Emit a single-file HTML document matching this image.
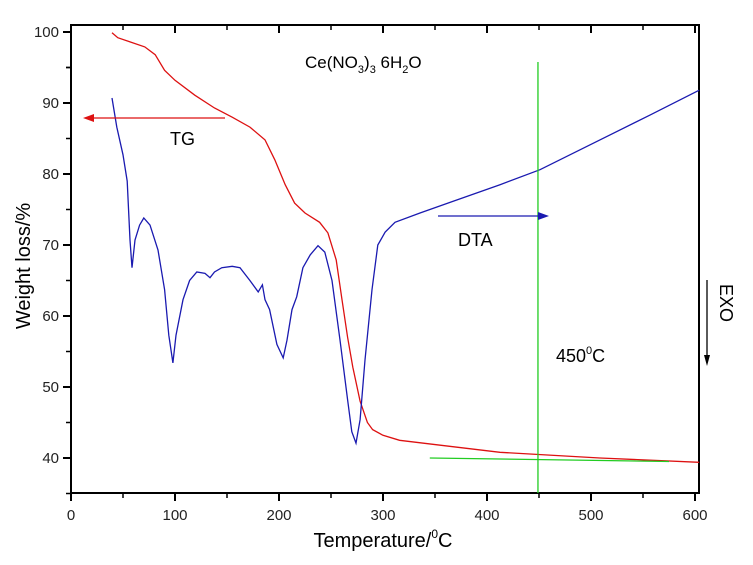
<!DOCTYPE html>
<html><head><meta charset="utf-8"><style>
body{margin:0;background:#fff}
svg text{font-family:"Liberation Sans",Arial,sans-serif}
</style></head><body>
<svg id="chart" width="753" height="560" xmlns="http://www.w3.org/2000/svg">
<g id="axes"></g><g id="series"></g><g id="ann"></g>
</svg>
<script>
const xTicks=[0,100,200,300,400,500,600];
const yTicks=[40,50,60,70,80,90,100];
const tgT=[39.4,45,56.7,71,81,90,100,119,138,155,172,186.5,196,206,215,225,239,247,255,260.6,266,271,278,285,290,300,316,355,412.5,508.6,604];
const tgV=[99.9,99.2,98.6,97.9,96.8,94.6,93.2,91.1,89.3,88,86.6,84.8,82,78.5,75.9,74.5,73.2,71.7,67.9,62.3,57,52.8,48,45,44,43.2,42.5,41.8,40.8,40.0,39.4];
const dtaT=[39.4,44,50,54,56.7,58.7,61.5,66,70,76,83.7,90,94,98,101,107.7,114,121,128.8,133.7,138,145,155,162.5,172,180,184,186.5,191,198,204,207.7,212.5,217,223,230,237.5,244,251,258.7,266,270,274,278,282.7,289.4,295,302,311.5,335.6,364.4,412.5,451,508.6,556.7,604];
const dtaV=[90.7,86.6,82.7,79,70.7,66.8,70.7,72.8,73.8,72.8,69.3,63.7,57.3,53.4,57.3,62.3,65,66.2,66,65.4,66.2,66.8,67,66.8,65,63.4,64.4,62.3,60.9,56,54.1,56.6,60.9,62.7,66.8,68.6,69.9,69,65,56.6,48.2,43.7,42.1,45.4,53.8,63.7,70,71.8,73.2,74.5,76,78.5,80.6,84.8,88.3,91.8];
const baseT=[345,575];
const baseV=[40.0,39.5];
const markT=[449];

const X=t=>71+t*1.04;
const Y=v=>32+(100-v)*7.1;
const NS='http://www.w3.org/2000/svg';
function mk(tag,attrs,parent,txt){const e=document.createElementNS(NS,tag);for(const k in attrs)e.setAttribute(k,attrs[k]);if(txt!==undefined)e.textContent=txt;document.getElementById(parent).appendChild(e);return e;}
const L=71,R=699,T=25,B=493;
let e=mk('rect',{x:L,y:T,width:R-L,height:B-T,fill:'none',stroke:'#000','stroke-width':2},'axes');

xTicks.forEach(t=>{
  mk('line',{x1:X(t),x2:X(t),y1:B,y2:B+8,stroke:'#000','stroke-width':2},'axes');
  mk('line',{x1:X(t),x2:X(t),y1:T,y2:T+8,stroke:'#000','stroke-width':2},'axes');
  if(t<600){mk('line',{x1:X(t+50),x2:X(t+50),y1:B,y2:B+5,stroke:'#000','stroke-width':1.5},'axes');
  mk('line',{x1:X(t+50),x2:X(t+50),y1:T,y2:T+5,stroke:'#000','stroke-width':1.5},'axes');}
  const tx=mk('text',{x:X(t),y:B+27,'text-anchor':'middle','font-size':15,fill:'#222'},'axes',t);
  
});
yTicks.forEach(v=>{
  mk('line',{x1:L-8,x2:L,y1:Y(v),y2:Y(v),stroke:'#000','stroke-width':2},'axes');
  mk('line',{x1:L-5,x2:L,y1:Y(v-5),y2:Y(v-5),stroke:'#000','stroke-width':1.5},'axes');
  const tx=mk('text',{x:L-12,y:Y(v)+5,'text-anchor':'end','font-size':15,fill:'#222'},'axes',v);
  
});
mk('line',{x1:L-5,x2:L,y1:Y(95),y2:Y(95),stroke:'#000','stroke-width':1.5},'axes');
function pts(ts,vs){return ts.map((t,i)=>X(t).toFixed(1)+','+Y(vs[i]).toFixed(1)).join(' ');}
e=mk('polyline',{points:pts(tgT,tgV),fill:'none',stroke:'#dd1111','stroke-width':1.3},'series');

e=mk('polyline',{points:pts(dtaT,dtaV),fill:'none',stroke:'#1a1ab0','stroke-width':1.3},'series');

e=mk('polyline',{points:pts(baseT,baseV),fill:'none',stroke:'#22cc22','stroke-width':1.3},'series');

e=mk('line',{x1:X(markT[0]),x2:X(markT[0]),y1:62,y2:B,stroke:'#22cc22','stroke-width':1.3},'series');

</script>
<svg width="753" height="560" style="position:absolute;left:0;top:0" xmlns="http://www.w3.org/2000/svg">
<text x="305" y="68" font-size="17">Ce(NO<tspan font-size="11" dy="5">3</tspan><tspan dy="-5">)</tspan><tspan font-size="11" dy="5">3</tspan><tspan dy="-5"> 6H</tspan><tspan font-size="11" dy="5">2</tspan><tspan dy="-5">O</tspan></text>
<g><line x1="225" y1="118" x2="90" y2="118" stroke="#dd1111" stroke-width="1.3"/><polygon points="83,118 94,114 94,122" fill="#dd1111"/></g>
<text x="170" y="145" font-size="18">TG</text>
<g><line x1="438" y1="216" x2="542" y2="216" stroke="#1a1ab0" stroke-width="1.3"/><polygon points="549,216 538,212 538,220" fill="#1a1ab0"/></g>
<text x="458" y="246" font-size="18">DTA</text>
<text x="556" y="362" font-size="18">450<tspan font-size="11" dy="-8">0</tspan><tspan dy="8">C</tspan></text>
<g><line x1="707" y1="280" x2="707" y2="358" stroke="#000" stroke-width="1.3"/><polygon points="707,366 704,355 710,355" fill="#000"/></g>
<text transform="translate(720,284) rotate(90)" font-size="18">EXO</text>
<text transform="translate(30,266) rotate(-90)" text-anchor="middle" font-size="20">Weight loss/%</text>
<text x="383" y="547" text-anchor="middle" font-size="20">Temperature/<tspan font-size="12" dy="-9">0</tspan><tspan dy="9">C</tspan></text>
</svg>
</body></html>
